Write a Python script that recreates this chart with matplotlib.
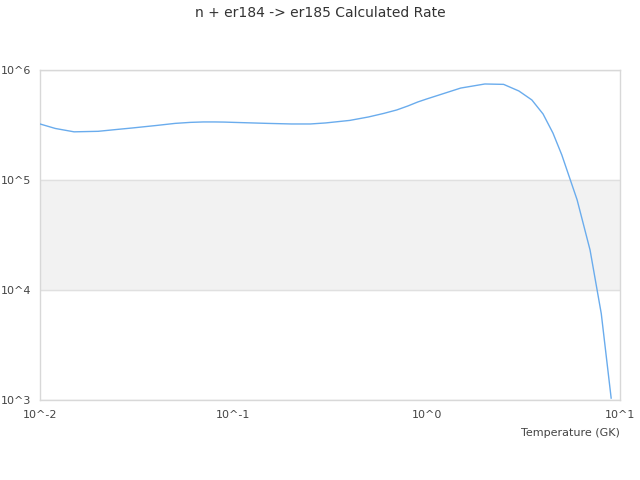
import matplotlib
matplotlib.use("Agg")
import matplotlib.pyplot as plt
from matplotlib.ticker import FixedLocator, FixedFormatter

# temperature grid (GK) and rate values
temps = [0.01, 0.012, 0.015, 0.02, 0.025, 0.03, 0.04, 0.05, 0.06, 0.07, 0.08, 0.09,
         0.1, 0.15, 0.2, 0.25, 0.3, 0.4, 0.5, 0.6, 0.7, 0.8, 0.9, 1.0,
         1.5, 2.0, 2.5, 3.0, 3.5, 4.0, 4.5, 5.0, 6.0, 7.0, 8.0, 9.0]
rates = [3.23e5, 2.94e5, 2.74e5, 2.77e5, 2.88e5, 2.97e5, 3.13e5, 3.27e5, 3.34e5, 3.37e5, 3.37e5, 3.36e5,
         3.34e5, 3.27e5, 3.23e5, 3.23e5, 3.3e5, 3.48e5, 3.74e5, 4.03e5, 4.33e5, 4.71e5, 5.12e5, 5.45e5,
         6.85e5, 7.46e5, 7.4e5, 6.44e5, 5.34e5, 3.98e5, 2.67e5, 1.69e5, 6.6e4, 2.31e4, 6.1e3, 1.04e3]

xticks = [0.01, 0.1, 1, 10]
xlabels = ["10^-2", "10^-1", "10^0", "10^1"]
yticks = [1e3, 1e4, 1e5, 1e6]
ylabels = ["10^3", "10^4", "10^5", "10^6"]

fig = plt.figure(figsize=(6.4, 4.8), dpi=100)
ax = fig.add_axes([0.0625, 0.1667, 0.90625, 0.6875])

ax.set_xscale("log")
ax.set_yscale("log")
ax.set_xlim(0.01, 10)
ax.set_ylim(1e3, 1e6)

# alternating band like the reference
ax.axhspan(1e4, 1e5, color="#f2f2f2", zorder=0)
for y in yticks:
    ax.axhline(y, color="#e0e0e0", lw=1, zorder=1)

ax.plot(temps, rates, color="#6aaced", lw=1, zorder=3)

ax.xaxis.set_major_locator(FixedLocator(xticks))
ax.xaxis.set_major_formatter(FixedFormatter(xlabels))
ax.yaxis.set_major_locator(FixedLocator(yticks))
ax.yaxis.set_major_formatter(FixedFormatter(ylabels))
ax.minorticks_off()
ax.tick_params(length=0, labelsize=8, labelcolor="#444444")
ax.tick_params(axis="x", pad=7)
ax.tick_params(axis="y", pad=6)

for s in ax.spines.values():
    s.set_color("#d8d8d8")
    s.set_linewidth(1)

ax.set_xlabel("Temperature (GK)", fontsize=8, color="#444444", loc="right", labelpad=6)
fig.suptitle("n + er184 -> er185 Calculated Rate", fontsize=10, color="#333333", y=0.988)

fig.savefig("out.png", dpi=100)
